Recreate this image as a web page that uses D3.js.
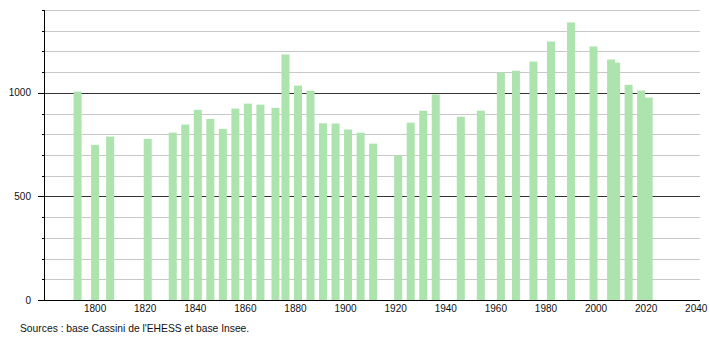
<!DOCTYPE html>
<html>
<head>
<meta charset="utf-8">
<script src="https://cdn.jsdelivr.net/npm/d3@7"></script>
<style>
    html, body { margin: 0; padding: 0; background: #fff; overflow: hidden; }
    svg { display: block; }
    text { font-family: "Liberation Sans", Arial, sans-serif; }
</style>
</head>
<body>
<div id="chart"></div>
<script>
const years = [1793, 1800, 1806, 1821, 1831, 1836, 1841, 1846, 1851, 1856,
    1861, 1866, 1872, 1876, 1881, 1886, 1891, 1896, 1901, 1906,
    1911, 1921, 1926, 1931, 1936, 1946, 1954, 1962, 1968, 1975,
    1982, 1990, 1999, 2006, 2008, 2013, 2018, 2021];
const population = [1006, 749, 789, 778, 808, 847, 918, 874, 826, 924,
    948, 943, 928, 1185, 1035, 1011, 853, 852, 823, 808,
    755, 699, 856, 914, 992, 885, 914, 1098, 1107, 1151,
    1248, 1340, 1224, 1161, 1146, 1039, 1011, 977];
const xTicks = [1800, 1820, 1840, 1860, 1880, 1900, 1920, 1940, 1960, 1980, 2000, 2020, 2040];
const yTicks = [0, 500, 1000];
const source = "Sources : base Cassini de l'EHESS et base Insee.";

const width = 710;
const height = 340;
const margin = { top: 10, right: 10, bottom: 40, left: 44 };
const innerWidth = width - margin.left - margin.right;
const innerHeight = height - margin.top - margin.bottom;
const barColor = "#ade3ad";
const barWidth = 8;

const svg = d3.select("#chart")
    .append("svg")
    .attr("width", width)
    .attr("height", height);

const g = svg.append("g")
    .attr("transform", `translate(${margin.left}, ${margin.top})`);

const xScale = d3.scaleLinear()
    .domain([1779.6, 2041.5])
    .range([0, innerWidth]);

const yScale = d3.scaleLinear()
    .domain([0, 1400])
    .range([innerHeight, 0]);

const yPos = d => Math.round(yScale(d)) + 0.5;
const minorVals = yScale.ticks(14);   // every 100

// grid every 100, black at 500 and 1000
g.selectAll(".grid")
    .data(minorVals.filter(d => d > 0))
    .join("line")
    .attr("class", "grid")
    .attr("x1", 0)
    .attr("x2", innerWidth)
    .attr("y1", yPos)
    .attr("y2", yPos)
    .attr("stroke", d => d % 500 === 0 ? "#333" : "#c8c8c8");

// bars
g.selectAll("rect")
    .data(years)
    .join("rect")
    .attr("x", d => xScale(d) - barWidth / 2)
    .attr("width", barWidth)
    .attr("y", (d, i) => yScale(population[i]))
    .attr("height", (d, i) => innerHeight - yScale(population[i]))
    .attr("fill", barColor);

// y axis line + ticks
g.append("line")
    .attr("x1", 0.5)
    .attr("x2", 0.5)
    .attr("y1", 0)
    .attr("y2", innerHeight)
    .attr("stroke", "#000");

g.selectAll(".ytick")
    .data(minorVals)
    .join("line")
    .attr("class", "ytick")
    .attr("x1", d => yTicks.includes(d) ? -6 : -2)
    .attr("x2", 0)
    .attr("y1", yPos)
    .attr("y2", yPos)
    .attr("stroke", "#000");

g.selectAll(".ylab")
    .data(yTicks)
    .join("text")
    .attr("class", "ylab")
    .attr("x", -13)
    .attr("y", d => yScale(d) + 3.5)
    .attr("text-anchor", "end")
    .attr("font-size", 10)
    .attr("fill", "#111")
    .text(d => d);

// x axis
g.append("line")
    .attr("x1", 0)
    .attr("x2", innerWidth)
    .attr("y1", innerHeight + 0.5)
    .attr("y2", innerHeight + 0.5)
    .attr("stroke", "#000");

g.selectAll(".xlab")
    .data(xTicks)
    .join("text")
    .attr("class", "xlab")
    .attr("x", d => xScale(d))
    .attr("y", innerHeight + 12)
    .attr("text-anchor", "middle")
    .attr("font-size", 10)
    .attr("fill", "#111")
    .text(d => d);

svg.append("text")
    .attr("x", 20)
    .attr("y", 332)
    .attr("font-size", 10.3)
    .attr("fill", "#111")
    .text(source);
</script>
</body>
</html>
